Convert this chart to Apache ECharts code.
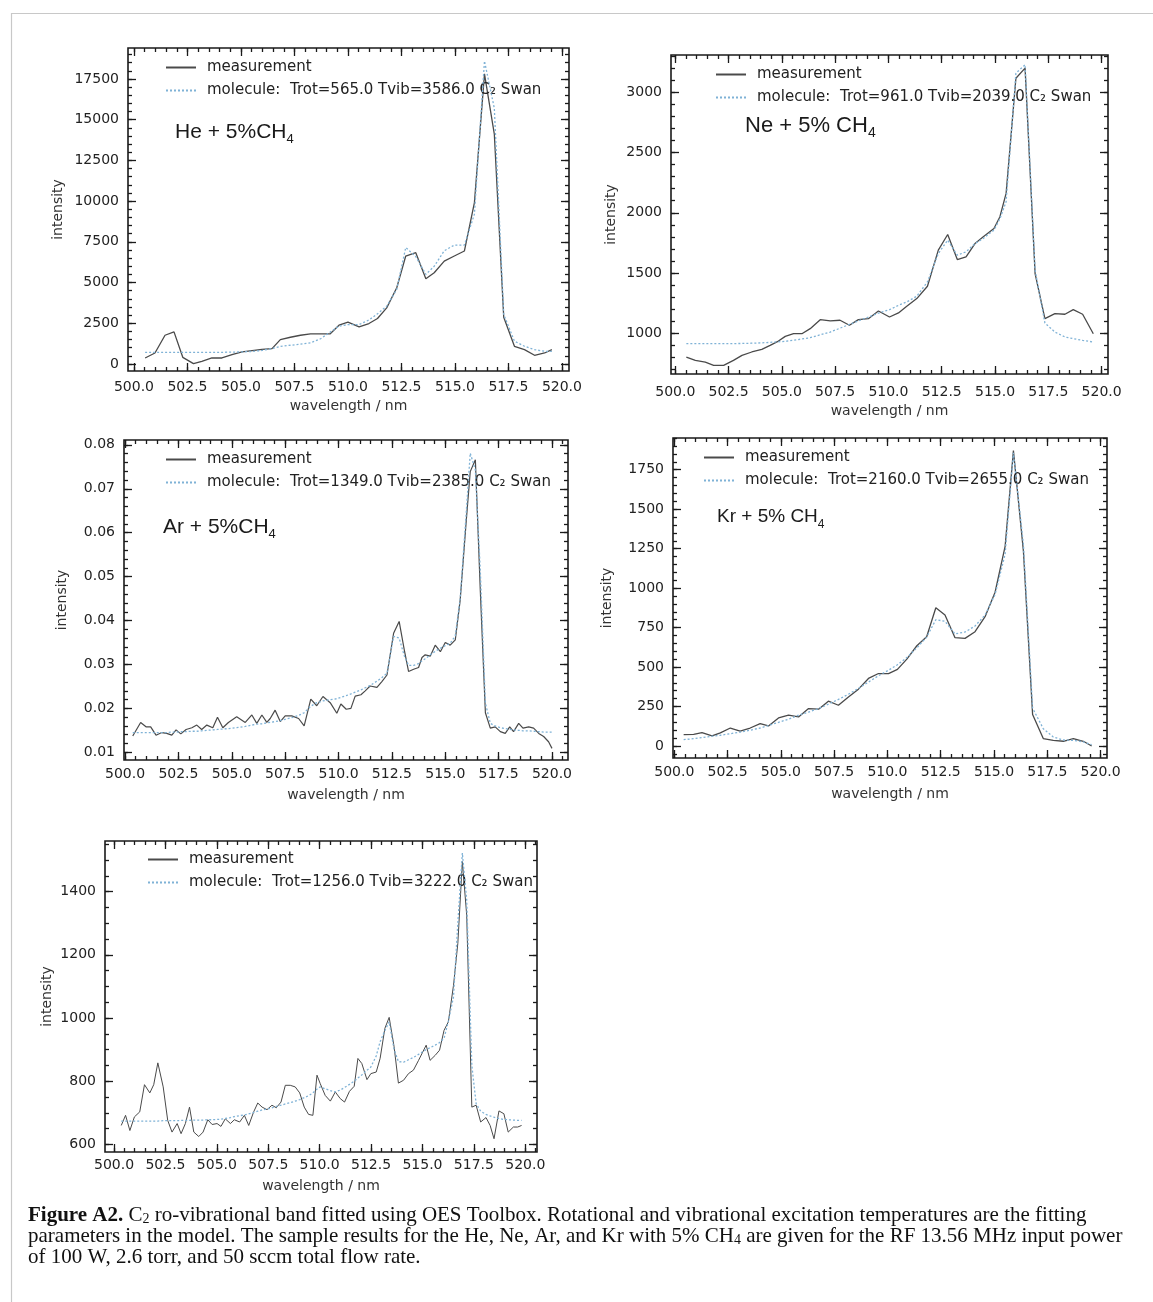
<!DOCTYPE html>
<html><head><meta charset="utf-8">
<script src="https://cdn.jsdelivr.net/npm/echarts@6/dist/echarts.min.js"></script>
<style>html,body{margin:0;padding:0;background:#fff}#c{width:1153px;height:1302px}</style>
</head><body><div id="c"></div>
<script>
// ---------- tick labels ----------
const xTicks = [500, 502.5, 505, 507.5, 510, 512.5, 515, 517.5, 520];
const heYTicks = [0, 2500, 5000, 7500, 10000, 12500, 15000, 17500];
const neYTicks = [1000, 1500, 2000, 2500, 3000];
const arYTicks = [0.01, 0.02, 0.03, 0.04, 0.05, 0.06, 0.07, 0.08];
const krYTicks = [0, 250, 500, 750, 1000, 1250, 1500, 1750];
const p5YTicks = [600, 800, 1000, 1200, 1400];

// ---------- He + 5%CH4 ----------
const heX = [500.52,500.98,501.45,501.87,502.28,502.78,503.17,503.64,504.11,504.58,505.05,505.52,505.98,506.45,506.84,507.31,507.78,508.25,508.72,509.16,509.58,510.00,510.52,510.98,511.38,511.81,512.28,512.70,513.17,513.64,514.03,514.50,514.97,515.44,515.91,516.38,516.84,517.28,517.78,518.25,518.72,519.19,519.53];
const heMeas = [369,677,1765,1970,410,20,164,369,369,575,739,821,903,944,1498,1642,1765,1847,1847,1847,2380,2565,2278,2483,2791,3447,4679,6628,6833,5233,5602,6320,6628,6936,9911,17811,14118,2873,1088,882,534,677,882];
const heMol = [718,718,718,718,718,718,718,718,718,730,745,770,830,950,1080,1150,1220,1300,1550,1950,2320,2420,2420,2700,3080,3550,4580,7150,6600,5500,6000,6950,7300,7300,9200,18600,15700,3040,1400,1090,880,780,780];

// ---------- Ne + 5% CH4 ----------
const neX = [500.52,500.94,501.41,501.80,502.27,502.73,503.13,503.59,504.06,504.45,504.84,505.16,505.55,505.94,506.33,506.80,507.27,507.73,508.17,508.59,509.06,509.53,510.05,510.47,510.86,511.33,511.83,512.34,512.78,513.23,513.64,514.06,514.45,514.95,515.23,515.52,515.98,516.41,516.88,517.34,517.81,518.28,518.67,519.11,519.61];
const neMeas = [800,772,758,731,731,772,814,842,864,897,933,972,994,994,1036,1111,1100,1106,1064,1111,1119,1183,1133,1167,1222,1286,1389,1689,1819,1611,1633,1744,1800,1869,1967,2161,3119,3203,1494,1119,1161,1156,1194,1156,994];
const neMol = [911,911,911,911,911,912,913,915,918,922,927,930,940,950,961,985,1008,1040,1072,1100,1133,1165,1194,1230,1258,1306,1425,1661,1772,1647,1675,1744,1786,1856,1950,2092,3161,3231,1522,1083,1008,967,953,939,925];

// ---------- Ar + 5%CH4 ----------
const arX = [500.36,500.73,500.98,501.20,501.45,501.72,501.95,502.19,502.39,502.61,
502.86,503.13,503.36,503.59,503.83,504.11,504.33,504.58,504.84,505.23,
505.63,505.94,506.17,506.41,506.64,506.80,507.03,507.27,507.50,507.81,
508.13,508.39,508.70,508.98,509.27,509.61,509.92,510.11,510.36,510.58,
510.78,511.05,511.25,511.48,511.80,512.03,512.27,512.58,512.84,513.08,
513.28,513.52,513.75,513.91,514.06,514.30,514.53,514.77,515.00,515.23,
515.47,515.70,515.98,516.17,516.41,516.64,516.88,517.11,517.34,517.58,
517.81,518.02,518.20,518.44,518.64,518.91,519.14,519.38,519.61,519.84,520.00];
const arMeas = [.0137,.0168,.0158,.0158,.0139,.0145,.0143,.0139,.0151,.0142,
.0152,.0156,.0162,.0152,.0162,.0156,.0180,.0156,.0168,.0181,
.0168,.0185,.0166,.0185,.0168,.0177,.0196,.0170,.0183,.0183,
.0177,.0160,.0221,.0206,.0227,.0213,.0189,.0210,.0198,.0200,
.0228,.0231,.0240,.0251,.0248,.0261,.0276,.0371,.0398,.0333,
.0284,.0289,.0293,.0316,.0322,.0319,.0344,.0329,.0350,.0344,
.0356,.0447,.0625,.0739,.0766,.0470,.0190,.0155,.0158,.0147,
.0143,.0158,.0147,.0166,.0155,.0158,.0155,.0143,.0136,.0124,.0109];
const arMol = [.0145,.0145,.0145,.0145,.0145,.0145,.0145,.0146,.0146,.0147,
.0147,.0148,.0148,.0149,.0150,.0151,.0152,.0153,.0154,.0156,
.0159,.0162,.0164,.0165,.0167,.0168,.0170,.0172,.0175,.0179,
.0184,.0190,.0205,.0213,.0217,.0220,.0222,.0225,.0229,.0233,
.0237,.0242,.0247,.0252,.0262,.0270,.0280,.0364,.0360,.0320,
.0298,.0298,.0302,.0308,.0313,.0322,.0330,.0337,.0343,.0348,
.0365,.0450,.0644,.0781,.0743,.0515,.0212,.0166,.0160,.0156,
.0154,.0152,.0151,.0150,.0149,.0149,.0148,.0147,.0146,.0146,.0146];

// ---------- Kr + 5% CH4 ----------
const krX = [500.44,500.91,501.30,501.77,502.16,502.63,503.09,503.56,504.03,504.42,504.89,505.36,505.83,506.30,506.77,507.23,507.70,508.17,508.64,509.11,509.58,510.05,510.47,510.91,511.38,511.84,512.27,512.70,513.17,513.64,514.11,514.58,515.05,515.52,515.91,516.38,516.81,517.31,517.78,518.25,518.72,519.19,519.58];
const krMeas = [72,74,85,64,83,114,95,114,142,127,178,195,184,237,233,284,258,311,360,428,459,459,485,550,635,692,876,830,686,682,724,819,974,1264,1871,1232,199,47,36,30,47,30,0];
const krMol = [40,47,53,62,68,78,88,100,114,130,150,170,195,215,237,265,295,328,365,405,445,480,515,560,622,690,800,790,710,722,760,830,960,1215,1857,1275,240,110,57,38,36,26,8];

// ---------- fifth panel ----------
const p5X = [500.35,500.56,500.77,500.99,501.25,501.48,501.74,501.93,502.13,502.39,
502.61,502.82,503.07,503.26,503.47,503.67,503.88,504.12,504.33,504.56,
504.77,505.01,505.20,505.41,505.66,505.85,506.11,506.34,506.55,506.79,
506.99,507.20,507.44,507.68,507.89,508.12,508.33,508.57,508.81,509.03,
509.25,509.46,509.67,509.87,510.03,510.27,510.52,510.76,511.00,511.21,
511.45,511.68,511.86,512.05,512.30,512.49,512.75,512.94,513.17,513.38,
513.62,513.83,514.08,514.32,514.56,514.81,515.18,515.37,515.62,515.83,
516.05,516.26,516.51,516.72,516.94,517.15,517.40,517.61,517.83,518.09,
518.29,518.48,518.72,518.96,519.17,519.42,519.63,519.82];
const p5Meas = [660,692,644,687,703,789,763,789,858,782,
676,639,666,634,666,718,639,625,639,678,
663,666,657,681,666,678,671,692,660,703,
731,718,710,724,716,734,787,787,782,763,
718,695,692,819,792,755,737,766,745,734,
768,784,872,856,805,824,829,872,967,1002,
909,794,803,824,835,866,914,866,882,898,
961,988,1104,1236,1495,1326,718,724,671,685,
660,618,706,697,639,655,655,660];
const p5Mol = [674,674,674,674,674,674,674,674,674,675,
675,675,675,676,676,676,677,677,677,678,
678,679,680,682,685,688,691,693,697,701,
705,709,712,716,720,724,728,732,737,742,
748,754,763,775,782,776,770,766,772,780,
790,800,810,820,835,845,880,925,960,988,
900,862,860,868,875,885,900,906,914,922,
936,990,1067,1300,1522,1374,850,729,705,695,
690,686,682,679,678,677,676,676];

const measName = 'measurement';
const molNames = [
  'molecule:  Trot=565.0 Tvib=3586.0 C\u2082 Swan',
  'molecule:  Trot=961.0 Tvib=2039.0 C\u2082 Swan',
  'molecule:  Trot=1349.0 Tvib=2385.0 C\u2082 Swan',
  'molecule:  Trot=2160.0 Tvib=2655.0 C\u2082 Swan',
  'molecule:  Trot=1256.0 Tvib=3222.0 C\u2082 Swan'
];
const gasLabels = ['He + 5%CH', 'Ne + 5% CH', 'Ar + 5%CH', 'Kr + 5% CH'];

// ---------- layout ----------
const panels = [
  {x: heX, m: heMeas, f: heMol, yT: heYTicks, ySub: 5, dec: 0, lw: 1.3,
   g: {left: 128, top: 48, width: 441, height: 323}, xr: [499.72, 520.33], yr: [-430, 19400],
   yGap: 63, xGap: 28, xMar: 9, lg: [165, 60], ann: [175, 132, 21]},
  {x: neX, m: neMeas, f: neMol, yT: neYTicks, ySub: 5, dec: 0, lw: 1.3,
   g: {left: 671, top: 55, width: 437, height: 319}, xr: [499.8, 520.3], yr: [659, 3312],
   yGap: 53, xGap: 30, xMar: 11, lg: [715, 67], ann: [745, 126, 22]},
  {x: arX, m: arMeas, f: arMol, yT: arYTicks, ySub: 5, dec: 2, lw: 1.2,
   g: {left: 124, top: 440, width: 444, height: 320}, xr: [499.95, 520.75], yr: [0.00825, 0.0811],
   yGap: 55, xGap: 28, xMar: 7, lg: [165, 452], ann: [163, 527, 21]},
  {x: krX, m: krMeas, f: krMol, yT: krYTicks, ySub: 5, dec: 0, lw: 1.3,
   g: {left: 673, top: 438, width: 434, height: 320}, xr: [499.94, 520.3], yr: [-76, 1951],
   yGap: 59, xGap: 29, xMar: 7, lg: [703, 450], ann: [717, 517, 19]},
  {x: p5X, m: p5Meas, f: p5Mol, yT: p5YTicks, ySub: 4, dec: 0, lw: 1.0,
   g: {left: 105, top: 841, width: 432, height: 311}, xr: [499.56, 520.57], yr: [576, 1560],
   yGap: 51, xGap: 27, xMar: 6, lg: [147, 852], ann: null}
];

function minorVals(ticks, sub, lo, hi) {
  const step = (ticks[1] - ticks[0]) / sub;
  const out = [];
  const start = ticks[0] - Math.ceil((ticks[0] - lo) / step) * step;
  for (let k = 0; ; k++) {
    const v = +(start + k * step).toFixed(8);
    if (v > hi) break;
    if (v >= lo) out.push(v);
  }
  return out;
}

const FONT = 'DejaVu Sans';
const tickColor = '#1a1a1a';
const grids = [], xAxes = [], yAxes = [], series = [], legends = [], titles = [];

panels.forEach((p, gi) => {
  grids.push(Object.assign({show: true, borderColor: '#1a1a1a', borderWidth: 1.6, backgroundColor: 'transparent'}, p.g));
  const xMaj = xTicks.filter(v => v >= p.xr[0] && v <= p.xr[1]);
  const xMin = minorVals(xTicks, 5, p.xr[0], p.xr[1]);
  const yMaj = p.yT.filter(v => v >= p.yr[0] && v <= p.yr[1]);
  const yMin = minorVals(p.yT, p.ySub, p.yr[0], p.yr[1]);
  const bx = {gridIndex: gi, type: 'value', min: p.xr[0], max: p.xr[1], splitLine: {show: false},
    axisLine: {show: false, onZero: false}};
  const by = {gridIndex: gi, type: 'value', min: p.yr[0], max: p.yr[1], splitLine: {show: false},
    axisLine: {show: false, onZero: false}};
  const tk = (vals, len) => ({show: true, inside: true, length: len, customValues: vals,
    lineStyle: {color: tickColor, width: 1.3}});
  const mainX = xAxes.length;
  xAxes.push(Object.assign({}, bx, {position: 'bottom', axisTick: tk(xMaj, 8),
    axisLabel: {show: true, customValues: xMaj, formatter: v => (+v).toFixed(1), margin: p.xMar,
      color: '#222', fontSize: 14, fontFamily: FONT},
    name: 'wavelength / nm', nameLocation: 'middle', nameGap: p.xGap,
    nameTextStyle: {color: '#333', fontSize: 14, fontFamily: FONT}}));
  xAxes.push(Object.assign({}, bx, {position: 'bottom', axisTick: tk(xMin, 4), axisLabel: {show: false}}));
  xAxes.push(Object.assign({}, bx, {position: 'top', axisTick: tk(xMaj, 8), axisLabel: {show: false}}));
  xAxes.push(Object.assign({}, bx, {position: 'top', axisTick: tk(xMin, 4), axisLabel: {show: false}}));
  const mainY = yAxes.length;
  yAxes.push(Object.assign({}, by, {position: 'left', axisTick: tk(yMaj, 8),
    axisLabel: {show: true, customValues: yMaj, formatter: v => (+v).toFixed(p.dec), margin: 9,
      color: '#222', fontSize: 14, fontFamily: FONT},
    name: 'intensity', nameLocation: 'middle', nameGap: p.yGap,
    nameTextStyle: {color: '#333', fontSize: 14, fontFamily: FONT}}));
  yAxes.push(Object.assign({}, by, {position: 'left', axisTick: tk(yMin, 4), axisLabel: {show: false}}));
  yAxes.push(Object.assign({}, by, {position: 'right', axisTick: tk(yMaj, 8), axisLabel: {show: false}}));
  yAxes.push(Object.assign({}, by, {position: 'right', axisTick: tk(yMin, 4), axisLabel: {show: false}}));

  series.push({type: 'line', name: measName, xAxisIndex: mainX, yAxisIndex: mainY,
    data: p.x.map((v, i) => [v, p.m[i]]), symbol: 'none', showSymbol: false,
    lineStyle: {color: '#4a4a4a', width: p.lw}, itemStyle: {color: '#4a4a4a'}, z: 3});
  series.push({type: 'line', name: molNames[gi], xAxisIndex: mainX, yAxisIndex: mainY,
    data: p.x.map((v, i) => [v, p.f[i]]), symbol: 'none', showSymbol: false,
    lineStyle: {color: '#7fb2d6', width: 1.3, type: [2, 2]}, itemStyle: {color: '#7fb2d6'}, z: 4});

  legends.push({orient: 'vertical', left: p.lg[0], top: p.lg[1], padding: 0, itemGap: 8,
    itemWidth: 30, itemHeight: 14, data: [measName, molNames[gi]], selectedMode: false,
    itemStyle: {opacity: 0},
    textStyle: {fontSize: 15, fontFamily: FONT, color: '#222', padding: [0, 0, 0, 6]}});

  if (p.ann) {
    titles.push({left: p.ann[0], top: p.ann[1] - 14, padding: 0,
      text: '{a|' + gasLabels[gi] + '}{s|4}',
      textStyle: {fontWeight: 'normal', rich: {
        a: {fontSize: p.ann[2], fontFamily: 'Liberation Sans', fontWeight: 'normal', color: '#1a1a1a', lineHeight: 28, verticalAlign: 'middle'},
        s: {fontSize: Math.round(p.ann[2] * 0.62), fontFamily: 'Liberation Sans', fontWeight: 'normal', color: '#1a1a1a', lineHeight: 13, verticalAlign: 'bottom'}
      }}});
  }
});

titles.push({left: 28, top: 1205, padding: 0,
  text: '{b|Figure A2.} C{s|2} ro-vibrational band fitted using OES Toolbox. Rotational and vibrational excitation temperatures are the fitting\n' +
        'parameters in the model. The sample results for the He, Ne, Ar, and Kr with 5% CH{s|4} are given for the RF 13.56 MHz input power\n' +
        'of 100 W, 2.6 torr, and 50 sccm total flow rate.',
  textStyle: {fontSize: 21, fontFamily: 'Liberation Serif', color: '#111', fontWeight: 'normal', lineHeight: 21,
    rich: {
      b: {fontSize: 21, fontFamily: 'Liberation Serif', fontWeight: 'bold', color: '#111', lineHeight: 21},
      s: {fontSize: 14, fontFamily: 'Liberation Serif', fontWeight: 'normal', color: '#111', lineHeight: 12, verticalAlign: 'bottom'}
    }}});

const chart = echarts.init(document.getElementById('c'), null, {renderer: 'canvas'});
chart.setOption({
  animation: false,
  backgroundColor: '#fff',
  title: titles,
  legend: legends,
  grid: grids,
  xAxis: xAxes,
  yAxis: yAxes,
  series: series,
  graphic: [{type: 'rect', left: 9, top: 11, shape: {width: 1300, height: 1400}, z: -10, silent: true,
    style: {fill: 'none', stroke: '#c8c8c8', lineWidth: 1.2}}]
});
</script></body></html>
